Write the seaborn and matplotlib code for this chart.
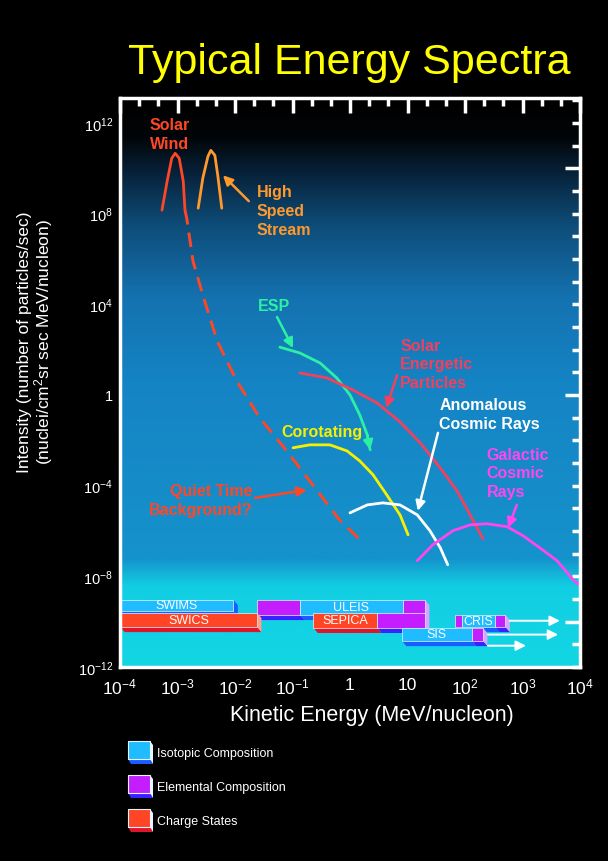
import numpy as np
import pandas as pd
import matplotlib
matplotlib.use("Agg")
import matplotlib.pyplot as plt
import seaborn as sns
from matplotlib.colors import LinearSegmentedColormap
from matplotlib.patches import Polygon
from matplotlib.ticker import FixedLocator, NullFormatter, NullLocator

sns.set_style("dark")
plt.rcParams['font.family'] = ['Liberation Sans', 'DejaVu Sans']
plt.rcParams['mathtext.fontset'] = 'custom'
plt.rcParams['mathtext.rm'] = 'Liberation Sans'
plt.rcParams['mathtext.it'] = 'Liberation Sans:italic'
plt.rcParams['mathtext.bf'] = 'Liberation Sans:bold'

# ---------------- data (log10 of energy [MeV/nucleon] and intensity) -------------
sw_logE = [-3.27, -3.18, -3.10, -3.04, -2.97, -2.90, -2.87]
sw_logI = [8.15, 9.43, 10.44, 10.66, 10.44, 9.43, 8.15]
hss_logE = [-2.64, -2.56, -2.47, -2.42, -2.35, -2.30, -2.23]
hss_logI = [8.24, 9.56, 10.53, 10.79, 10.57, 9.69, 8.24]
qt_logE = [-2.87, -2.84, -2.73, -2.56, -2.31, -1.97, -1.57, -1.10, -0.57, -0.17, 0.23]
qt_logI = [8.15, 7.80, 5.90, 4.41, 2.38, 0.62, -1.01, -2.47, -4.23, -5.55, -6.52]
esp_logE = [-1.22, -0.87, -0.52, -0.23, 0.0, 0.17, 0.30, 0.35]
esp_logI = [2.11, 1.85, 1.41, 0.75, 0.0, -0.88, -1.76, -2.42]
sep_logE = [-0.87, -0.40, 0.05, 0.47, 0.87, 1.22, 1.57, 1.86, 2.09, 2.31]
sep_logI = [0.97, 0.75, 0.22, -0.35, -1.19, -2.11, -3.22, -4.23, -5.29, -6.34]
cir_logE = [-0.99, -0.70, -0.35, -0.05, 0.17, 0.40, 0.64, 0.87, 1.01]
cir_logI = [-2.33, -2.20, -2.20, -2.47, -2.91, -3.52, -4.41, -5.29, -6.17]
acr_logE = [0.0, 0.30, 0.57, 0.87, 1.17, 1.39, 1.57, 1.70]
acr_logI = [-5.20, -4.85, -4.76, -4.85, -5.29, -5.99, -6.74, -7.49]
gcr_logE = [1.17, 1.44, 1.79, 2.09, 2.38, 2.73, 3.01, 3.30, 3.60, 3.88, 4.0]
gcr_logI = [-7.31, -6.61, -5.99, -5.73, -5.68, -5.81, -6.21, -6.74, -7.31, -8.15, -8.41]

# instruments: segments (type, logE start, logE end), rows in log intensity
instr_names = ["SWIMS", "ULEIS", "SWICS", "SEPICA", "CRIS", "SIS"]
instr_top = [-9.03, -9.03, -9.60, -9.60, -9.69, -10.26]
instr_bottom = [-9.52, -9.69, -10.22, -10.26, -10.22, -10.84]
instr_segments = [
    [("iso", -4.0, -2.03)],
    [("elem", -1.62, -0.87), ("iso", -0.87, 0.92), ("elem", 0.92, 1.30)],
    [("charge", -4.0, -1.62)],
    [("charge", -0.64, 0.47), ("elem", 0.47, 1.30)],
    [("elem", 1.83, 1.95), ("iso", 1.95, 2.52), ("elem", 2.52, 2.70)],
    [("iso", 0.90, 2.12), ("elem", 2.12, 2.31)],
]
instr_label_seg = [0, 1, 0, 0, 1, 0]
ext_start = [2.78, 2.40, 2.40]
ext_end = [3.65, 3.62, 3.06]
ext_level = [-9.96, -10.57, -11.06]

x_tick_exp = list(range(-4, 5))
y_label_exp = [12, 8, 4, 0, -4, -8, -12]
legend_labels = ["Isotopic Composition", "Elemental Composition", "Charge States"]
legend_kinds = ["iso", "elem", "charge"]

BOX = {
    "iso": dict(face="#1fbcff", bottom="#1a5cff", side="#1a5cff"),
    "elem": dict(face="#c41eff", bottom="#3a22ff", side="#d9a6ff"),
    "charge": dict(face="#ff4526", bottom="#e0142c", side="#ff9f8c"),
}

# ---------------- figure ---------------------------------------------------------
W, H = 608, 862
fig = plt.figure(figsize=(W / 100, H / 100), dpi=100, facecolor="black")
ax = fig.add_axes([120 / W, 1 - 668 / H, 460 / W, 569 / H])
ax.set_xscale("log")
ax.set_yscale("log")

# background gradient
stops = [(0.0, "#12d6e4"), (0.14, "#12cee2"), (0.19, "#1592cc"), (0.5, "#1584c4"),
         (0.65, "#1472b0"), (0.78, "#0e4c78"), (0.87, "#07223a"), (0.935, "#020507"),
         (1.0, "#000000")]
cmap = LinearSegmentedColormap.from_list("bg", stops)
ax.imshow(np.linspace(0, 1, 600).reshape(-1, 1), cmap=cmap, origin="lower",
          extent=(0, 1, 0, 1), transform=ax.transAxes, aspect="auto", zorder=0)


def curve(lx, ly, color, lw=2.0, **kw):
    df = pd.DataFrame({"E": 10.0 ** np.array(lx), "I": 10.0 ** np.array(ly)})
    sns.lineplot(data=df, x="E", y="I", ax=ax, color=color, lw=lw, sort=False,
                 estimator=None, zorder=3, **kw)


C_SW = "#ff4726"
C_HSS = "#ff992e"
C_ESP = "#2cf0a4"
C_SEP = "#f2405e"
C_CIR = "#f6f000"
C_ACR = "#ffffff"
C_GCR = "#ff46f0"

curve(qt_logE, qt_logI, C_SW, lw=2.1, linestyle=(0, (5, 2.8)))
curve(sw_logE, sw_logI, C_SW)
curve(hss_logE, hss_logI, C_HSS)
curve(esp_logE, esp_logI, C_ESP)
curve(sep_logE, sep_logI, C_SEP)
curve(cir_logE, cir_logI, C_CIR)
curve(acr_logE, acr_logI, C_ACR)
curve(gcr_logE, gcr_logI, C_GCR)


def P(lx, ly):
    return (10.0 ** lx, 10.0 ** ly)


def arrow(x0, y0, x1, y1, color, lw=1.8, ms=14):
    ax.annotate("", xy=P(x1, y1), xytext=P(x0, y0),
                arrowprops=dict(arrowstyle="-|>", color=color, lw=lw,
                                mutation_scale=ms, shrinkA=0, shrinkB=0),
                zorder=4)


# arrowhead at end of ESP curve
arrow(esp_logE[-2], esp_logI[-2], esp_logE[-1], esp_logI[-1], C_ESP, ms=14)
# pointer arrows
arrow(-1.76, 8.55, -2.21, 9.69, C_HSS)
arrow(-1.27, 3.44, -0.99, 2.07, C_ESP)
arrow(0.82, 0.88, 0.63, -0.57, C_SEP)
arrow(1.53, -1.67, 1.18, -5.11, C_ACR)
arrow(2.90, -4.85, 2.75, -5.86, C_GCR)
arrow(-1.65, -4.54, -0.75, -4.19, C_SW)

lab = dict(fontsize=11.5, fontweight="bold", linespacing=1.32, zorder=5)
ax.text(*P(-3.13, 11.52), "Solar\nWind", color=C_SW, ha="center", va="center", **lab)
ax.text(*P(-1.62, 8.15), "High\nSpeed\nStream", color=C_HSS, ha="left", va="center", **lab)
ax.text(*P(-1.60, 3.96), "ESP", color=C_ESP, ha="left", va="center", **lab)
ax.text(*P(0.87, 1.37), "Solar\nEnergetic\nParticles", color=C_SEP, ha="left", va="center", **lab)
ax.text(*P(1.55, -0.84), "Anomalous\nCosmic Rays", color=C_ACR, ha="left", va="center", **lab)
ax.text(*P(2.38, -3.44), "Galactic\nCosmic\nRays", color=C_GCR, ha="left", va="center", **lab)
ax.text(*P(-1.20, -1.59), "Corotating", color=C_CIR, ha="left", va="center", **lab)
ax.text(*P(-1.70, -4.63), "Quiet Time\nBackground?", color=C_SW, ha="right", va="center",
        multialignment="right", **lab)

# instrument 3D boxes
DX, DY = 0.08, 0.24


def box(segs, top, bot, z):
    for kind, a, b in segs:
        c = BOX[kind]
        ax.add_patch(Polygon([P(a, bot), P(b, bot), P(b + DX, bot - DY), P(a + DX, bot - DY)],
                             closed=True, fc=c["bottom"], ec="none", zorder=z))
        ax.add_patch(Polygon([P(a, top), P(b, top), P(b, bot), P(a, bot)], closed=True,
                             fc=c["face"], ec="#dff6ff", lw=0.5, zorder=z + 0.1))
    kind, a, b = segs[-1]
    ax.add_patch(Polygon([P(b, top), P(b + DX, top - DY), P(b + DX, bot - DY), P(b, bot)],
                         closed=True, fc=BOX[kind]["side"], ec="none", zorder=z))


for i, name in enumerate(instr_names):
    z = 6 + i * 0.5
    box(instr_segments[i], instr_top[i], instr_bottom[i], z)
    k, a, b = instr_segments[i][instr_label_seg[i]]
    ax.text(*P((a + b) / 2, (instr_top[i] + instr_bottom[i]) / 2), name, color="white",
            fontsize=9, ha="center", va="center", zorder=z + 0.3)

for s, e, lv in zip(ext_start, ext_end, ext_level):
    ax.annotate("", xy=P(e, lv), xytext=P(s, lv),
                arrowprops=dict(arrowstyle="-|>", color="white", lw=1.4,
                                mutation_scale=15, shrinkA=0, shrinkB=0), zorder=9)

# axes, ticks
ax.set_xlim(1e-4, 1e4)
ax.set_ylim(1e-12, 10 ** 13.1)
ax.set_xlabel("")
ax.set_ylabel("")
ax.grid(False)
for sp in ax.spines.values():
    sp.set_color("white")
    sp.set_linewidth(2.5)
    sp.set_zorder(10)

ax.xaxis.set_major_locator(FixedLocator([10.0 ** k for k in x_tick_exp]))
ax.set_xticklabels(["1" if k == 0 else ("10" if k == 1 else f"10$^{{{k}}}$") for k in x_tick_exp])
minor_x = [10.0 ** (k + f) for k in range(-4, 4) for f in (1 / 3, 2 / 3)]
ax.xaxis.set_minor_locator(FixedLocator(minor_x))
ax.xaxis.set_minor_formatter(NullFormatter())

y_all = list(range(-12, 14))
ax.yaxis.set_major_locator(FixedLocator([10.0 ** k for k in y_all]))
ax.set_yticklabels([("1" if k == 0 else f"10$^{{{k}}}$") if k in y_label_exp else "" for k in y_all])
ax.yaxis.set_minor_locator(NullLocator())

ax.tick_params(axis="both", which="both", direction="in", colors="white",
               top=True, right=True, width=2.5)
ax.tick_params(axis="x", which="major", length=11, labelsize=12.5, pad=7)
ax.tick_params(axis="x", which="minor", length=6)
ax.tick_params(axis="y", which="major", length=6, labelsize=10.5, pad=5)
for k, t in zip(y_all, ax.yaxis.get_major_ticks()):
    if k in (10, 0, -10):
        t.tick1line.set_markersize(11)
        t.tick2line.set_markersize(11)

# titles and axis labels
fig.text(349 / W, 1 - 63 / H, "Typical Energy Spectra", color="#ffff00", fontsize=31,
         ha="center", va="center")
fig.text(372 / W, 1 - 716 / H, "Kinetic Energy (MeV/nucleon)", color="white", fontsize=15.5,
         ha="center", va="center")
fig.text(36 / W, 1 - 342 / H,
         "Intensity (number of particles/sec)\n(nuclei/cm$^{2}$sr sec MeV/nucleon)",
         color="white", fontsize=12.5, rotation=90, ha="center", va="center",
         linespacing=1.0)

# legend swatches (figure pixel space)
lax = fig.add_axes([0, 0, 1, 1], facecolor="none")
lax.set_xlim(0, W)
lax.set_ylim(H, 0)
lax.axis("off")
for i, (kind, txt) in enumerate(zip(legend_kinds, legend_labels)):
    y0 = 742 + i * 34
    c = BOX[kind]
    lax.add_patch(Polygon([(128, y0 + 18), (150, y0 + 18), (153, y0 + 23), (131, y0 + 23)],
                          closed=True, fc=c["bottom"], ec="none"))
    lax.add_patch(Polygon([(150, y0), (153, y0 + 4), (153, y0 + 23), (150, y0 + 18)],
                          closed=True, fc="#e8f4ff", ec="none"))
    lax.add_patch(Polygon([(128, y0), (150, y0), (150, y0 + 18), (128, y0 + 18)],
                          closed=True, fc=c["face"], ec="#e8f4ff", lw=0.8))
    lax.text(157, y0 + 12, txt, color="white", fontsize=9, ha="left", va="center")

fig.savefig("out.png", dpi=100, facecolor="black")
